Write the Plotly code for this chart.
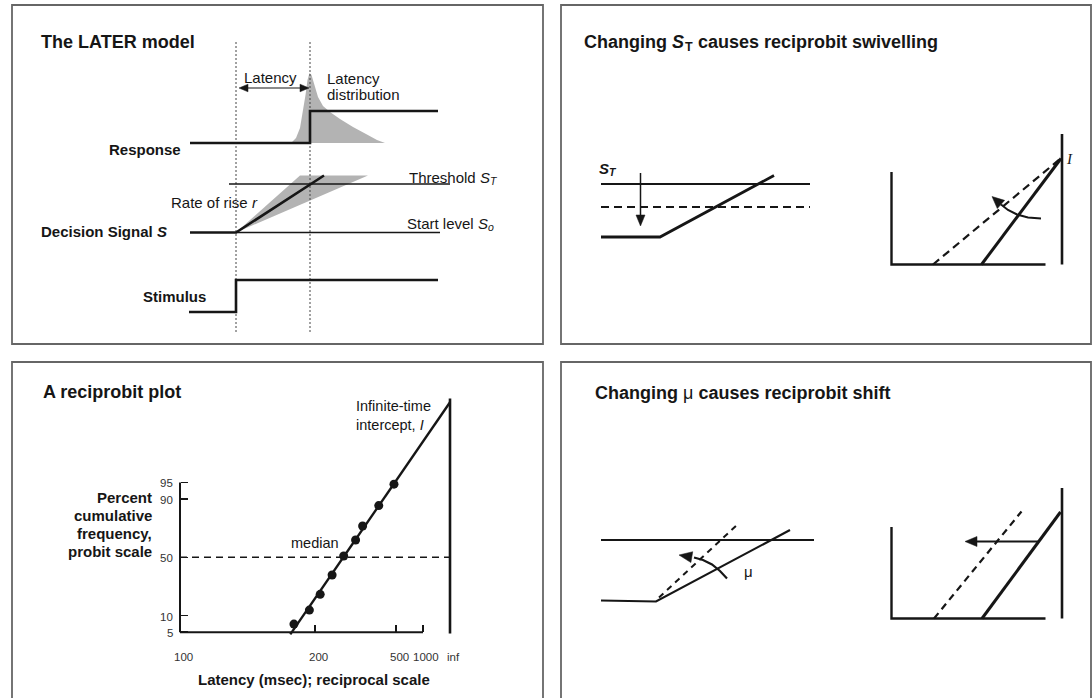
import plotly.graph_objects as go
from statistics import NormalDist
import numpy as np

W, H = 1092, 698
INK = "#161616"
GREY = "#b3b3b3"
FRAME = "#666666"
SANS = "Liberation Sans, Arial, sans-serif"
SERIF = "Liberation Serif, Times New Roman, serif"

# ---------------------------------------------------------------------------
# Reciprobit data: response latencies (ms) and cumulative percentages
latency_ms = [173, 192, 208, 229, 254, 286, 309, 379, 482]
cum_percent = [7.1, 12.3, 20.8, 34.9, 51.1, 64.8, 75.4, 87.2, 94.6]
latency_tick_ms = [100, 200, 500, 1000, float("inf")]
latency_tick_text = ["100", "200", "500", "1000", "inf"]
percent_tick = [5, 10, 50, 90, 95]

# ---------------------------------------------------------------------------
# Schematic sketches, drawn on a canvas measured in pixels
panel_boxes = [(12, 5, 543, 344), (561, 5, 1091, 344),
               (12, 362, 543, 712), (561, 362, 1091, 712)]

# LATER model
later_guides_x = [236, 310]
later_guides_y = [42, 333]
response_x = [190, 310, 310, 438]
response_y = [143, 143, 111, 111]
stimulus_x = [189, 236, 236, 438]
stimulus_y = [312, 312, 280, 280]
threshold_x = [229, 450]
threshold_y = [184, 184]
start_x = [236, 440]
start_y = [232.5, 232.5]
signal_x = [190, 236, 324]
signal_y = [232.5, 232.5, 175.5]
fan_x = [236, 300, 368, 236]
fan_y = [232.5, 175.5, 175.5, 232.5]
dist_x = [291, 296, 300, 303, 305.5, 307.5, 309.5, 311.5, 314, 318, 323, 330,
          340, 353, 366, 377, 385]
dist_y = [143, 138, 128, 112, 95, 80, 73, 75, 84, 97, 106, 112,
          119, 127, 134, 140, 143]
latency_arrow = ((239, 88), (309, 88))

# S_T swivel sketch
sw_thr_x = [601, 810]
sw_thr_y = [184, 184]
sw_low_x = [601, 810]
sw_low_y = [207, 207]
sw_sig_x = [601, 660, 774]
sw_sig_y = [237, 237, 175.5]
sw_drop = ((640.5, 173), (640.5, 226))
sw_box_left = ([891.5, 891.5, 1045.5], [172, 264.5, 264.5])
sw_box_right = ([1062, 1062], [134, 264.5])
sw_solid = ([981.5, 1061], [264.5, 158.5])
sw_dashed = ([933, 1060], [264.5, 159])
sw_curve = ([1041, 1028, 1017, 1008, 1001], [218.5, 217.5, 214.5, 210, 204.5])
sw_curve_tip = (992, 196.5)

# mu shift sketch
sh_thr_x = [601, 814]
sh_thr_y = [540, 540]
sh_sig_x = [601, 656, 790]
sh_sig_y = [600.5, 601.5, 530]
sh_dash = ([659, 737.5], [597.5, 524.5])
sh_curve = ([727, 720, 712, 703, 694], [578.5, 571, 564.5, 560, 557.5])
sh_curve_tip = (679, 555)
sh_box_left = ([891.5, 891.5, 1045.5], [527, 618.5, 618.5])
sh_box_right = ([1062, 1062], [488, 618.5])
sh_solid = ([982, 1060.5], [618.5, 512])
sh_dashed = ([934, 1021.5], [618.5, 511.5])
sh_shift = ((1038, 541.5), (965, 541.5))

# ---------------------------------------------------------------------------
fig = go.Figure()


def path(xs, ys, width, dash=None, color=INK, axes=("x", "y"), **kw):
    fig.add_trace(go.Scatter(
        x=list(xs), y=list(ys), mode="lines", xaxis=axes[0], yaxis=axes[1],
        line=dict(color=color, width=width, dash=dash),
        hoverinfo="skip", showlegend=False, **kw))


def it(s, size):
    """Italic run with an explicit font size."""
    return '<span style="font-style:italic;font-size:%gpx">%s</span>' % (size, s)


def text(x, y, s, size=15, anchor="left", family=SANS, color=INK):
    fig.add_annotation(x=x, y=y, xref="x", yref="y", text=s, showarrow=False,
                       xanchor=anchor, yanchor="middle", borderpad=0,
                       font=dict(family=family, size=size, color=color))


def head(tail, tip, length=10, half=4.5):
    """Solid triangular arrowhead at `tip`, pointing away from `tail`."""
    t, p = np.asarray(tail, float), np.asarray(tip, float)
    u = (p - t) / np.linalg.norm(p - t)
    n = np.array([-u[1], u[0]])
    base = p - u * length
    pts = [p, base + n * half, base - n * half, p]
    path([q[0] for q in pts], [q[1] for q in pts], 0.5,
         fill="toself", fillcolor=INK)


def arrow(start, end, width=1.5, both=False, length=10, half=4.5):
    s, e = np.asarray(start, float), np.asarray(end, float)
    u = (e - s) / np.linalg.norm(e - s)
    s_line = s + u * (length - 2) if both else s
    e_line = e - u * (length - 2)
    path([s_line[0], e_line[0]], [s_line[1], e_line[1]], width)
    head(s, e, length, half)
    if both:
        head(e, s, length, half)


# panel frames
for x0, y0, x1, y1 in panel_boxes:
    fig.add_shape(type="rect", xref="x", yref="y", x0=x0, y0=y0, x1=x1, y1=y1,
                  line=dict(color=FRAME, width=1.8), layer="below")

# ---- The LATER model ------------------------------------------------------
path(dist_x, dist_y, 0, fill="toself", fillcolor=GREY, color=GREY)
path(fan_x, fan_y, 0, fill="toself", fillcolor=GREY, color=GREY)
for gx in later_guides_x:
    path([gx, gx], later_guides_y, 1, dash="2px,2px", color="#444444")
path(threshold_x, threshold_y, 1.3)
path(start_x, start_y, 1.3)
path(response_x, response_y, 2.6)
path(stimulus_x, stimulus_y, 2.6)
path(signal_x, signal_y, 2.6)
arrow(*latency_arrow, width=1.2, both=True, length=9, half=3.8)

text(40, 42, "<b>The LATER model</b>", size=18)
text(243, 77, "Latency")
text(326, 78, "Latency")
text(326, 94, "distribution")
text(182, 149, "<b>Response</b>", anchor="right")
text(491, 177, "Threshold " + it("S", 15), anchor="right")
text(489, 181, it("T", 10.5), size=10.5)
text(170, 202, "Rate of rise " + it("r", 15))
text(489, 223, "Start level " + it("S", 15), anchor="right")
text(487, 227, it("o", 10.5), size=10.5)
text(40, 231, "<b>Decision Signal " + it("S", 15) + "</b>")
text(207, 296, "<b>Stimulus</b>", anchor="right")

# ---- Changing S_T causes reciprobit swivelling -----------------------------
text(685, 42, "<b>Changing " + it("S", 18) + "</b>", size=18, anchor="right")
text(684, 47, "<b>T</b>", size=12.5)
text(697, 42, "<b>causes reciprobit swivelling</b>", size=18)
path(sw_thr_x, sw_thr_y, 2)
path(sw_low_x, sw_low_y, 2, dash="8px,5px")
path(sw_sig_x, sw_sig_y, 2.8)
arrow(*sw_drop, width=1.5, length=11, half=4.5)
text(610, 168, "<b>" + it("S", 15) + "</b>", anchor="right")
text(608, 172, "<b>" + it("T", 10.5) + "</b>", size=10.5)
path(*sw_box_left, 2.4)
path(*sw_box_right, 2.6)
path(*sw_dashed, 2.2, dash="8px,5px")
path(*sw_solid, 3)
path(*sw_curve, 2)
head((sw_curve[0][-1], sw_curve[1][-1]), sw_curve_tip, length=12, half=5.5)
text(1065, 159, it("I", 15), size=15, family=SERIF)

# ---- Changing mu causes reciprobit shift ---------------------------------
text(594, 393, "<b>Changing </b>\u03bc<b> causes reciprobit shift</b>", size=18)
path(sh_thr_x, sh_thr_y, 1.8)
path(sh_sig_x, sh_sig_y, 2.2)
path(*sh_dash, 2, dash="6px,5px")
path(*sh_curve, 2.2)
head((sh_curve[0][-1], sh_curve[1][-1]), sh_curve_tip, length=13, half=5.5)
text(743, 571, "\u03bc", size=15)
path(*sh_box_left, 2.4)
path(*sh_box_right, 2.6)
path(*sh_dashed, 2.2, dash="7px,5px")
path(*sh_solid, 3)
arrow(*sh_shift, width=2.2, length=12, half=5)

# ---- A reciprobit plot ---------------------------------------------------
# Horizontal axis: negative reciprocal latency (1/s), infinite time at 0.
# Vertical axis: probit (standard normal deviate) of cumulative frequency.
probit = NormalDist().inv_cdf


def recip(t_ms):
    return 0.0 if np.isinf(t_ms) else -1000.0 / t_ms


X_PX_INF, X_PX_PER_UNIT = 450.0, 27.0     # canvas placement of the reciprocal axis
Y_PX_MEDIAN, Y_PX_PER_UNIT = 557.3, 45.5  # canvas placement of the probit axis
BOX_PX = (140, 480, 385, 660)             # left, right, top, bottom of plot area


def x_px(v):
    return X_PX_INF + v * X_PX_PER_UNIT


def y_px(z):
    return Y_PX_MEDIAN - z * Y_PX_PER_UNIT


x_range = [(BOX_PX[0] - X_PX_INF) / X_PX_PER_UNIT, (BOX_PX[1] - X_PX_INF) / X_PX_PER_UNIT]
y_range = [(Y_PX_MEDIAN - BOX_PX[3]) / Y_PX_PER_UNIT, (Y_PX_MEDIAN - BOX_PX[2]) / Y_PX_PER_UNIT]

rx = [recip(t) for t in latency_ms]
pz = [probit(p / 100) for p in cum_percent]
slope, intercept = np.polyfit(rx, pz, 1)

x_ticks = [recip(t) for t in latency_tick_ms]
y_ticks = [probit(p / 100) for p in percent_tick]
z_lo, z_hi = y_ticks[0], y_ticks[-1]
x_lo, x_hi = x_ticks[0], x_ticks[-2]
ax2 = ("x2", "y2")

path([x_lo, x_lo], [z_lo, z_hi], 2, axes=ax2)                      # probit axis
path([x_lo, x_hi], [z_lo, z_lo], 2, axes=ax2)                      # latency axis
path([0, 0], [z_lo - 0.03, 3.49], 2.6, axes=ax2)                   # infinity line
path([x_lo, 0], [0, 0], 1.4, dash="7px,5px", axes=ax2)             # median
fit_start = (z_lo - 0.05 - intercept) / slope
path([fit_start, 0], [slope * fit_start + intercept, intercept], 2.4, axes=ax2)
fig.add_trace(go.Scatter(x=rx, y=pz, mode="markers", xaxis="x2", yaxis="y2",
                         marker=dict(color=INK, size=9), hoverinfo="skip",
                         showlegend=False))

# tick labels of the reciprobit axes
for v, lab in zip(x_ticks, latency_tick_text):
    text(x_px(v) + 3, 657, lab, size=11.5, anchor="center", color="#333333")
for z, lab in zip(y_ticks, percent_tick):
    text(x_px(x_lo) - 6, y_px(z) + 1, str(lab), size=11.5, anchor="right", color="#333333")

text(42, 392, "<b>A reciprobit plot</b>", size=18)
text(355, 406, "Infinite-time", size=14.5)
text(355, 425, "intercept, " + it("I", 14.5), size=14.5)
text(315, 543, "median", size=14.5, anchor="center")
for i, line in enumerate(["Percent", "cumulative", "frequency,", "probit scale"]):
    text(153, 497 + 18.3 * i, "<b>%s</b>" % line, anchor="right")
text(314, 679, "<b>Latency (msec); reciprocal scale</b>", anchor="center")

fig.update_layout(
    width=W, height=H, margin=dict(l=0, r=0, t=0, b=0),
    paper_bgcolor="white", plot_bgcolor="rgba(0,0,0,0)", showlegend=False,
    xaxis=dict(range=[0, W], domain=[0, 1], visible=False, fixedrange=True),
    yaxis=dict(range=[H, 0], domain=[0, 1], visible=False, fixedrange=True),
    xaxis2=dict(domain=[BOX_PX[0] / W, BOX_PX[1] / W], range=x_range,
                anchor="free", position=1 - y_px(z_lo) / H,
                tickvals=x_ticks, ticks="inside", ticklen=7, tickwidth=1.5,
                tickcolor=INK, showticklabels=False,
                showgrid=False, zeroline=False, showline=False, fixedrange=True),
    yaxis2=dict(domain=[1 - BOX_PX[3] / H, 1 - BOX_PX[2] / H], range=y_range,
                anchor="free", position=x_px(x_lo) / W, side="left",
                tickvals=y_ticks, ticks="inside", ticklen=7, tickwidth=1.5,
                tickcolor=INK, showticklabels=False,
                showgrid=False, zeroline=False, showline=False, fixedrange=True),
)

fig.write_html("out.html", config={"displayModeBar": False, "staticPlot": True})
